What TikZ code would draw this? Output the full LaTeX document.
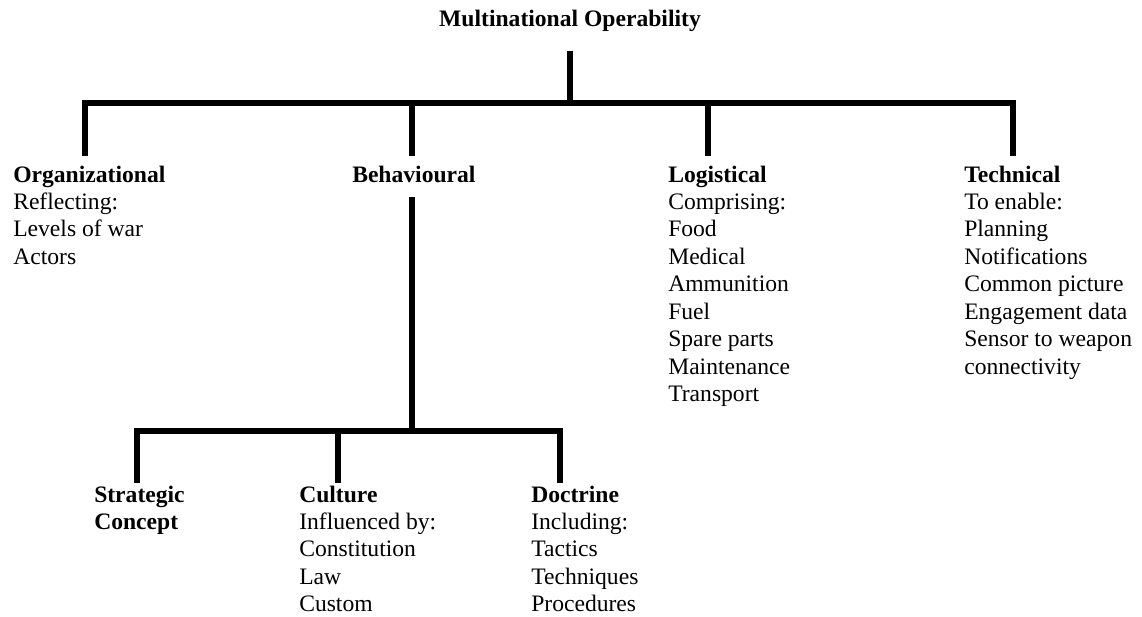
\documentclass[tikz,border=0pt]{standalone}
\usepackage{fontspec}
\setmainfont{Liberation Serif}
\newcommand{\stack}[1]{\begin{tabular}[t]{@{}l@{}}#1\end{tabular}}

\begin{document}
\begin{tikzpicture}[x=0.75pt, y=-0.75pt,
    branch/.style={line width=4.5pt},
    item/.style={anchor=base west, inner xsep=0pt, inner ysep=5pt, font=\fontsize{17.7pt}{20.6pt}\selectfont},
    low/.style={item, inner ysep=0pt}]
    \useasboundingbox (0,0) rectangle (1142,617);

    \node[item, anchor=base, inner ysep=14pt] (mop) at (570,27) {\textbf{Multinational Operability}};

    \node[item] (org) at (13,182) {\stack{\textbf{Organizational}\\Reflecting:\\Levels of war\\Actors}};
    \node[item] (beh) at (352,182) {\stack{\textbf{Behavioural}}};
    \node[item] (log) at (668,182) {\stack{\textbf{Logistical}\\Comprising:\\Food\\Medical\\Ammunition\\Fuel\\Spare parts\\Maintenance\\Transport}};
    \node[item] (tech) at (964,182) {\stack{\textbf{Technical}\\To enable:\\Planning\\Notifications\\Common picture\\Engagement data\\Sensor to weapon\\connectivity}};

    \node[low] (strat) at (94,502) {\stack{\textbf{Strategic}\\\textbf{Concept}}};
    \node[low] (cult) at (299,502) {\stack{\textbf{Culture}\\Influenced by:\\Constitution\\Law\\Custom}};
    \node[low] (doc) at (531,502) {\stack{\textbf{Doctrine}\\Including:\\Tactics\\Techniques\\Procedures}};

    % junctions on the two bars
    \coordinate (j1) at (85,103);
    \coordinate (j2) at (412,103);
    \coordinate (j3) at (708,103);
    \coordinate (j4) at (1013,103);
    \coordinate (k1) at (137,431);
    \coordinate (k2) at (338,431);
    \coordinate (k3) at (560,431);

    \draw[branch] (mop.south) -- (mop.south |- j1);
    \draw[branch] (j1 |- org.north) -- (j1) -- (j4) -- (j4 |- tech.north);
    \foreach \n/\j in {beh/j2, log/j3}
      \draw[branch] (\j) -- (\j |- \n.north);

    \draw[branch] (j2 |- beh.south) -- (j2 |- k1);
    \draw[branch] (k1 |- strat.north) -- (k1) -- (k3) -- (k3 |- doc.north);
    \draw[branch] (k2) -- (k2 |- cult.north);
  \end{tikzpicture}
\end{document}
